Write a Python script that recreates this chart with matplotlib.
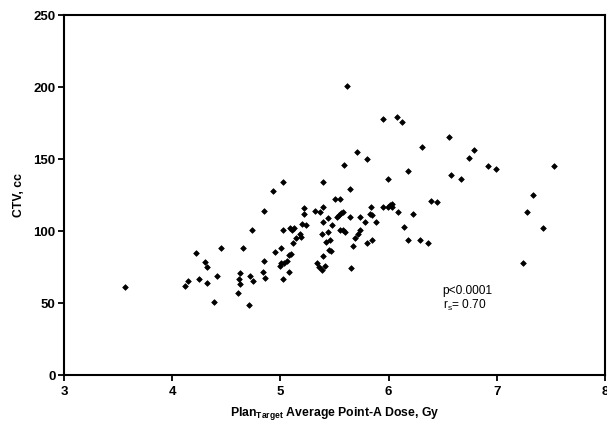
import matplotlib
matplotlib.use("Agg")
import matplotlib.pyplot as plt

plt.rcParams['font.family'] = ['Liberation Sans', 'DejaVu Sans']

dose = [3.56, 4.12, 4.15, 4.22, 4.25, 4.30, 4.32, 4.32, 4.39, 4.41,
        4.45, 4.61, 4.62, 4.63, 4.63, 4.65, 4.71, 4.72, 4.75, 4.74,
        4.85, 4.84, 4.86, 4.85, 4.93, 5.02, 4.95, 5.01, 5.02, 5.00,
        5.01, 5.03, 5.02, 5.06, 5.08, 5.08, 5.10, 5.09, 5.11, 5.13,
        5.12, 5.14, 5.18, 5.19, 5.20, 5.24, 5.22, 5.22, 5.32, 5.37,
        5.39, 5.39, 5.44, 5.48, 5.52, 5.54, 5.56, 5.58, 5.64, 5.55,
        5.58, 5.60, 5.38, 5.44, 5.42, 5.46, 5.45, 5.47, 5.39, 5.34,
        5.36, 5.38, 5.41, 5.65, 5.67, 5.69, 5.72, 5.74, 5.74, 5.78,
        5.80, 5.85, 5.84, 5.83, 5.85, 5.88, 5.95, 5.99, 6.01, 6.03,
        6.03, 6.09, 6.23, 6.14, 6.18, 6.29, 6.36, 5.39, 5.64, 5.50,
        5.55, 5.59, 5.71, 5.80, 5.62, 5.95, 6.08, 6.12, 6.31, 6.56,
        6.79, 6.74, 6.18, 6.92, 6.99, 7.53, 6.58, 6.67, 5.99, 7.33,
        7.28, 7.43, 7.24, 6.39, 6.45]
ctv = [61, 62, 65, 85, 67, 78.5, 75, 64, 50.5, 68.5,
       88, 57, 66.5, 70.5, 63.5, 88.5, 48.5, 68.5, 65.5, 101,
       79.5, 71.5, 67.5, 114, 128, 134, 85.5, 88.5, 101, 76,
       78, 78, 66.5, 79.5, 71.5, 83.5, 84, 102, 100.5, 102,
       91.5, 95, 98, 96, 105, 104, 116, 112, 114, 113,
       117, 106, 109, 104, 109.5, 111, 112.5, 113, 110, 101,
       100.5, 99, 98, 99, 92.5, 93.5, 87, 86, 82.5, 77.5,
       75, 73, 75.5, 74, 89.5, 95, 98, 101, 110, 106,
       92, 94, 117, 112, 111, 106, 117, 117, 118, 119,
       117, 113, 112, 103, 94, 93.5, 91.5, 134, 129, 122,
       122, 146, 155, 150, 201, 178, 179, 176, 158, 165,
       156, 151, 142, 145, 143, 145, 139, 136, 136, 125,
       113, 102, 78, 121, 120]

xticks = [3, 4, 5, 6, 7, 8]
yticks = [0, 50, 100, 150, 200, 250]

fig = plt.figure(figsize=(6.07, 4.23), dpi=100)
ax = fig.add_axes([64/607, 1-375/423, (605-64)/607, (375-15)/423])
ax.plot(dose, ctv, linestyle='none', marker='D', markersize=2.9,
        color='black', markeredgewidth=0.5)
ax.set_xlim(3, 8)
ax.set_ylim(0, 250)
ax.set_xticks(xticks)
ax.set_yticks(yticks)
for lab in ax.get_xticklabels() + ax.get_yticklabels():
    lab.set_fontweight('bold')
    lab.set_fontsize(9.5)
ax.tick_params(direction='out', length=4, width=1.3)
ax.tick_params(axis='x', pad=4)
ax.tick_params(axis='y', pad=2)
for sp in ax.spines.values():
    sp.set_linewidth(1.5)
ax.set_ylabel('CTV, cc', fontsize=8.8, fontweight='bold', labelpad=6)
ax.set_xlabel(r'Plan$_{\mathregular{Target}}$ Average Point-A Dose, Gy',
              fontsize=8.8, fontweight='bold', labelpad=5)
ax.text(6.5, 58, 'p<0.0001', fontsize=8.6, ha='left', va='center')
ax.text(6.5, 48.5, r'r$_{\mathregular{s}}$= 0.70', fontsize=8.6, ha='left', va='center')

fig.savefig('out.png', dpi=100)
